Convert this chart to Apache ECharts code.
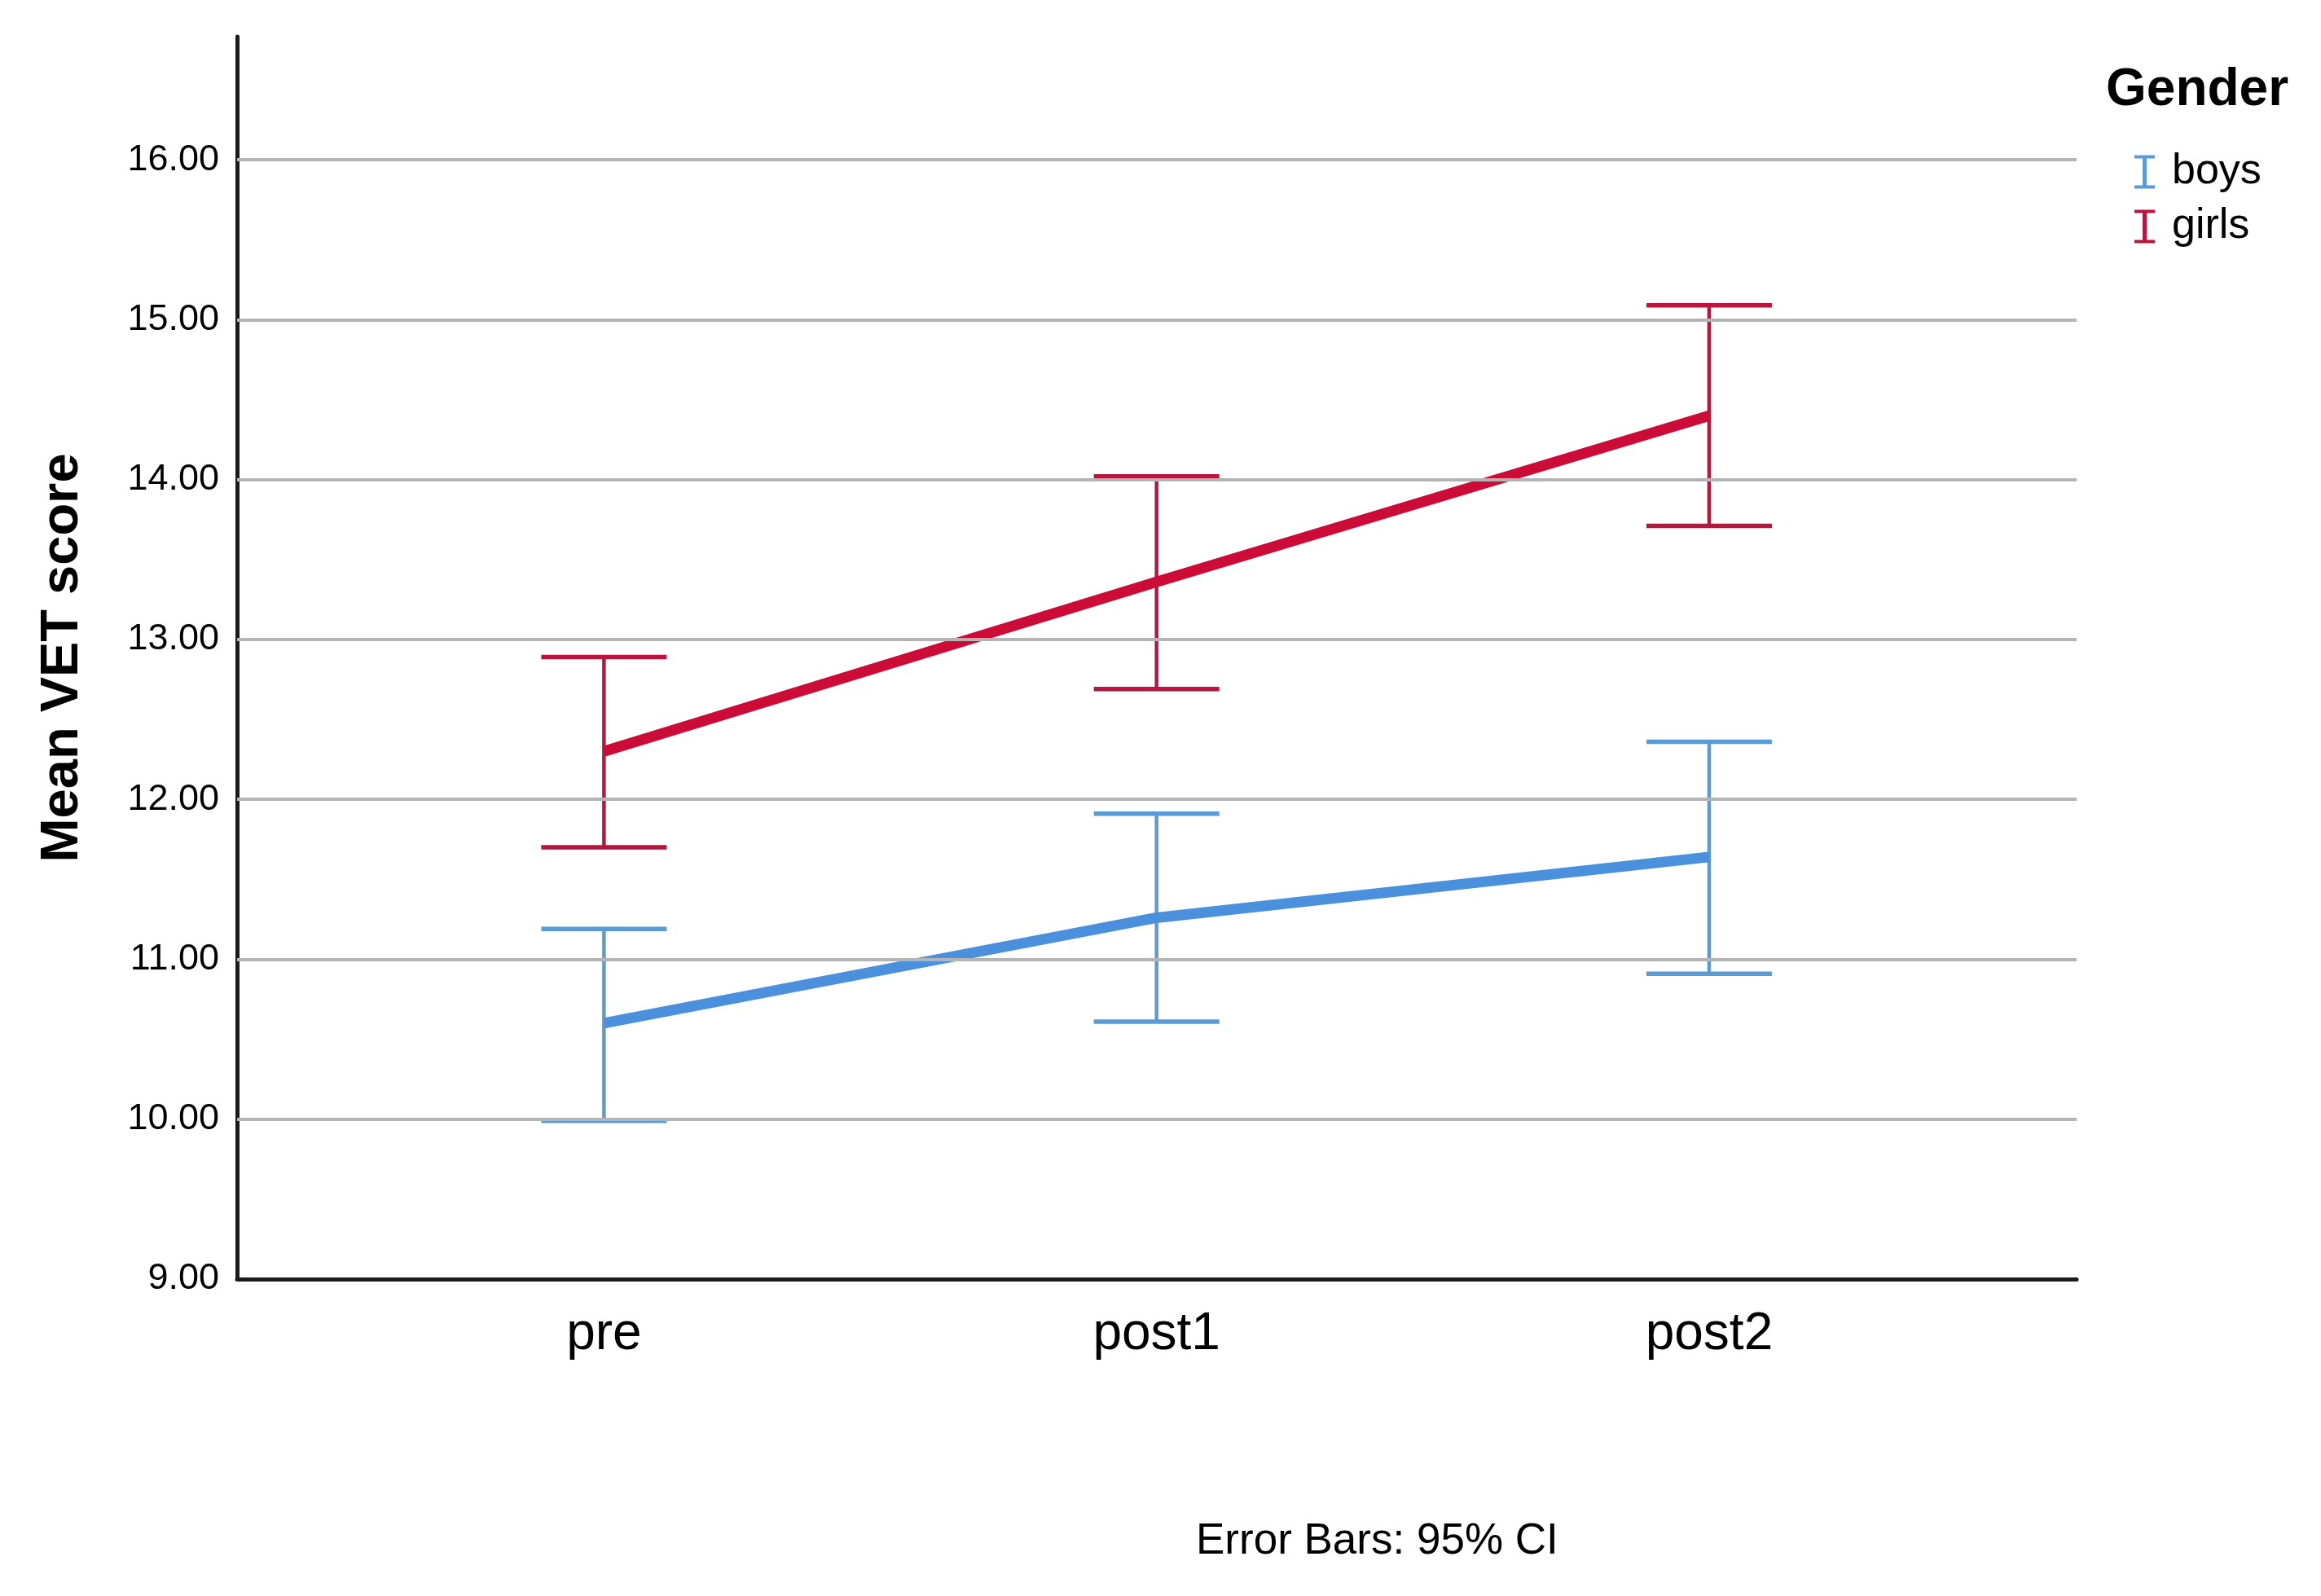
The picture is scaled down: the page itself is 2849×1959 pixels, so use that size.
<!DOCTYPE html>
<html>
<head>
<meta charset="utf-8">
<script src="https://cdn.jsdelivr.net/npm/echarts@6/dist/echarts.min.js"></script>
<style>html,body{margin:0;padding:0;background:#fff;}#c{width:2849px;height:1959px;}</style>
</head>
<body>
<div id="c"></div>
<script>
// ---- data ----
const categories = ['pre', 'post1', 'post2'];
const boysMean  = [10.60, 11.26, 11.64];
const boysLow   = [9.99, 10.61, 10.91];
const boysHigh  = [11.19, 11.91, 12.36];
const girlsMean = [12.30, 13.36, 14.40];
const girlsLow  = [11.70, 12.69, 13.71];
const girlsHigh = [12.89, 14.02, 15.09];
const yTicks = [9, 10, 11, 12, 13, 14, 15, 16];

const boysLine = '#4a90dc', boysBar = '#5b9bd5';
const girlsLine = '#cc0c36', girlsBar = '#b8163f';
const sans = '"Liberation Sans", Arial, sans-serif';

function pts(arr){ return arr.map((v,i)=>[i,v]); }
function bars(lo,hi){ return lo.map((v,i)=>[i,v,hi[i]]); }

function errRender(color){
  return function(params, api){
    const x = api.value(0);
    const lo = api.coord([x, api.value(1)]);
    const hi = api.coord([x, api.value(2)]);
    const hw = 77;
    return {type:'group', children:[
      {type:'line', shape:{x1:lo[0],y1:lo[1],x2:hi[0],y2:hi[1]}, style:{stroke:color,lineWidth:4.5}},
      {type:'line', shape:{x1:lo[0]-hw,y1:lo[1],x2:lo[0]+hw,y2:lo[1]}, style:{stroke:color,lineWidth:5.5}},
      {type:'line', shape:{x1:hi[0]-hw,y1:hi[1],x2:hi[0]+hw,y2:hi[1]}, style:{stroke:color,lineWidth:5.5}}
    ]};
  };
}

const iconPath = 'path://M0,0H25V4H15V37H25V41H0V37H10V4H0Z';

const chart = echarts.init(document.getElementById('c'), null, {renderer:'canvas'});
chart.setOption({
  backgroundColor:'#fff',
  animation:false,
  title:{text:'Gender', left:2580, top:74, textStyle:{fontFamily:sans, fontWeight:'bold', fontSize:64, color:'#000'}},
  legend:{
    orient:'vertical', left:2615, top:180, itemWidth:25, itemHeight:41, itemGap:15,
    textStyle:{fontFamily:sans, fontSize:52, color:'#000', padding:[0,0,0,16]},
    data:[
      {name:'boys', icon:iconPath, itemStyle:{color:boysBar}},
      {name:'girls', icon:iconPath, itemStyle:{color:girlsBar}}
    ]
  },
  graphic:[{type:'text', left:1468, top:1866, style:{text:'Error Bars: 95% CI', fontFamily:sans, fontSize:53, fill:'#000'}}],
  grid:{left:291, right:300, top:45, bottom:389, containLabel:false},
  xAxis:{
    type:'value', min:-0.664, max:2.665,
    axisLine:{show:true, onZero:false, lineStyle:{color:'#1a1a1a', width:5}},
    axisTick:{show:false},
    splitLine:{show:false},
    axisLabel:{customValues:[0,1,2], formatter:v=>categories[Math.round(v)], fontFamily:sans, fontSize:64, color:'#000', margin:36}
  },
  yAxis:{
    type:'value', min:9, max:16.77, interval:1,
    name:'Mean VET score', nameLocation:'middle', nameRotate:90, nameGap:181,
    nameTextStyle:{fontFamily:sans, fontWeight:'bold', fontSize:65, color:'#000'},
    axisLine:{show:true, onZero:false, lineStyle:{color:'#1a1a1a', width:5}},
    axisTick:{show:false},
    axisLabel:{customValues:yTicks, formatter:v=>v.toFixed(2), fontFamily:sans, fontSize:45, color:'#000', margin:22},
    splitLine:{show:false}
  },
  series:[
    {type:'line', name:'gridlines', silent:true, data:[], markLine:{silent:true, symbol:'none', label:{show:false},
      lineStyle:{color:'#b4b4b4', width:4, type:'solid'}, data:yTicks.filter(v=>v>9).map(v=>({yAxis:v}))}},
    {type:'custom', name:'boys', renderItem:errRender(boysBar), data:bars(boysLow,boysHigh), z:3, itemStyle:{color:boysBar}},
    {type:'custom', name:'girls', renderItem:errRender(girlsBar), data:bars(girlsLow,girlsHigh), z:3, itemStyle:{color:girlsBar}},
    {type:'line', name:'boys', data:pts(boysMean), symbol:'none', lineStyle:{color:boysLine, width:13}, itemStyle:{color:boysLine}, z:4},
    {type:'line', name:'girls', data:pts(girlsMean), symbol:'none', lineStyle:{color:girlsLine, width:13}, itemStyle:{color:girlsLine}, z:4}
  ]
});
</script>
</body>
</html>
